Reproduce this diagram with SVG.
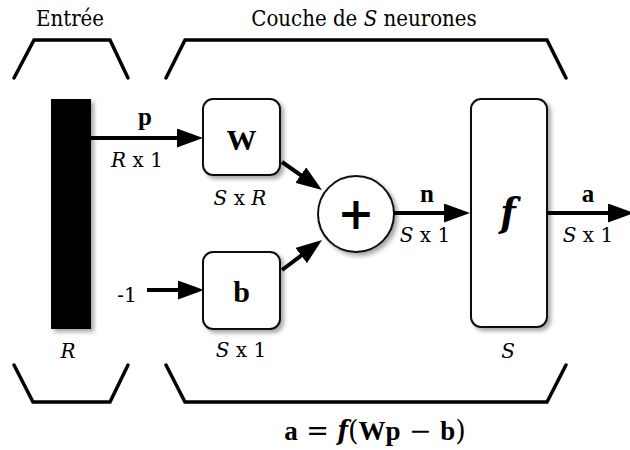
<svg xmlns="http://www.w3.org/2000/svg" width="630" height="450" viewBox="0 0 630 450">
<style>
  text { font-family: 'DejaVu Serif', serif; fill: #000; }
  .title { font-size: 22px; font-stretch: condensed; }
  .lbl { font-size: 20px; }
  .bf { font-family: 'Liberation Serif', 'DejaVu Serif', serif; font-weight: bold; }
  .fx { font-style: italic; font-weight: bold; font-stretch: condensed; }
  .box { fill: #fff; stroke: #111; stroke-width: 2; }
  .br { fill: none; stroke: #000; stroke-width: 3.5; stroke-linejoin: miter; stroke-linecap: round; }
  .conn { stroke: #000; stroke-width: 4; fill: none; }
</style>
<defs>
  <filter id="sh" x="-20%" y="-20%" width="150%" height="150%">
    <feDropShadow dx="3" dy="3" stdDeviation="2" flood-color="#000" flood-opacity="0.35"/>
  </filter>
  <marker id="ah" markerUnits="userSpaceOnUse" markerWidth="26" markerHeight="19" refX="16" refY="9.5" orient="auto">
    <path d="M0,0 L26,9.5 L0,19 z" fill="#000"/>
  </marker>
</defs>

<g id="brackets">
  <polyline class="br" points="14,78 34,40 110,40 128,78"/>
  <polyline class="br" points="166,78 185,40 547,40 566,78"/>
  <polyline class="br" points="14,365 33,402 110,402 128,365"/>
  <polyline class="br" points="166,365 185,402 547,402 566,365"/>
</g>

<g id="titles">
  <text class="title" x="70" y="26" text-anchor="middle">Entrée</text>
  <text class="title" x="364" y="26" text-anchor="middle">Couche de <tspan font-style="italic">S</tspan> neurones</text>
</g>

<g id="input">
  <rect x="51" y="99" width="40" height="230" fill="#000" filter="url(#sh)"/>
  <text class="lbl" font-style="italic" x="68" y="358" text-anchor="middle">R</text>
</g>

<g id="W">
  <rect class="box" x="203" y="99" width="77" height="76" rx="10" filter="url(#sh)"/>
  <text class="bf" x="241.5" y="150" font-size="30" text-anchor="middle">W</text>
  <text class="lbl" x="240" y="205" text-anchor="middle"><tspan font-style="italic">S</tspan> x <tspan font-style="italic">R</tspan></text>
</g>

<g id="b">
  <rect class="box" x="203" y="252" width="77" height="77" rx="10" filter="url(#sh)"/>
  <text class="bf" x="241.5" y="302" font-size="30" text-anchor="middle">b</text>
  <text class="lbl" x="241" y="357" text-anchor="middle"><tspan font-style="italic">S</tspan> x 1</text>
</g>

<g id="sum">
  <circle cx="356" cy="214" r="38" fill="#fff" stroke="#111" stroke-width="2" filter="url(#sh)"/>
  <text font-weight="bold" x="356" y="229" font-size="44" text-anchor="middle">+</text>
</g>

<g id="f">
  <rect class="box" x="471" y="99" width="76" height="228" rx="10" filter="url(#sh)"/>
  <text class="fx" x="508" y="226" font-size="40" text-anchor="middle">f</text>
  <text class="lbl" font-style="italic" x="508" y="358" text-anchor="middle">S</text>
</g>

<g id="connectors">
  <line class="conn" x1="91" y1="138" x2="193" y2="138" marker-end="url(#ah)"/>
  <line class="conn" x1="147" y1="290" x2="194" y2="290" marker-end="url(#ah)"/>
  <line class="conn" x1="282" y1="162" x2="313.8" y2="184.3" marker-end="url(#ah)"/>
  <line class="conn" x1="282" y1="270" x2="314" y2="246" marker-end="url(#ah)"/>
  <line class="conn" x1="394" y1="213" x2="460" y2="213" marker-end="url(#ah)"/>
  <line class="conn" x1="547" y1="213" x2="624" y2="213" marker-end="url(#ah)"/>
</g>

<g id="labels">
  <text class="bf" x="145" y="125" font-size="25" text-anchor="middle">p</text>
  <text class="lbl" x="137" y="167" text-anchor="middle"><tspan font-style="italic">R</tspan> x 1</text>
  <text class="lbl" x="127" y="302" text-anchor="middle">-1</text>
  <text class="bf" x="427" y="202" font-size="25" text-anchor="middle">n</text>
  <text class="lbl" x="425" y="242" text-anchor="middle"><tspan font-style="italic">S</tspan> x 1</text>
  <text class="bf" x="588" y="202" font-size="25" text-anchor="middle">a</text>
  <text class="lbl" x="588" y="242" text-anchor="middle"><tspan font-style="italic">S</tspan> x 1</text>
</g>

<g id="formula">
  <text x="375" y="440" font-size="27" text-anchor="middle"><tspan class="bf">a</tspan> = <tspan class="fx">f</tspan>(<tspan class="bf">Wp</tspan> − <tspan class="bf">b</tspan>)</text>
</g>
</svg>
